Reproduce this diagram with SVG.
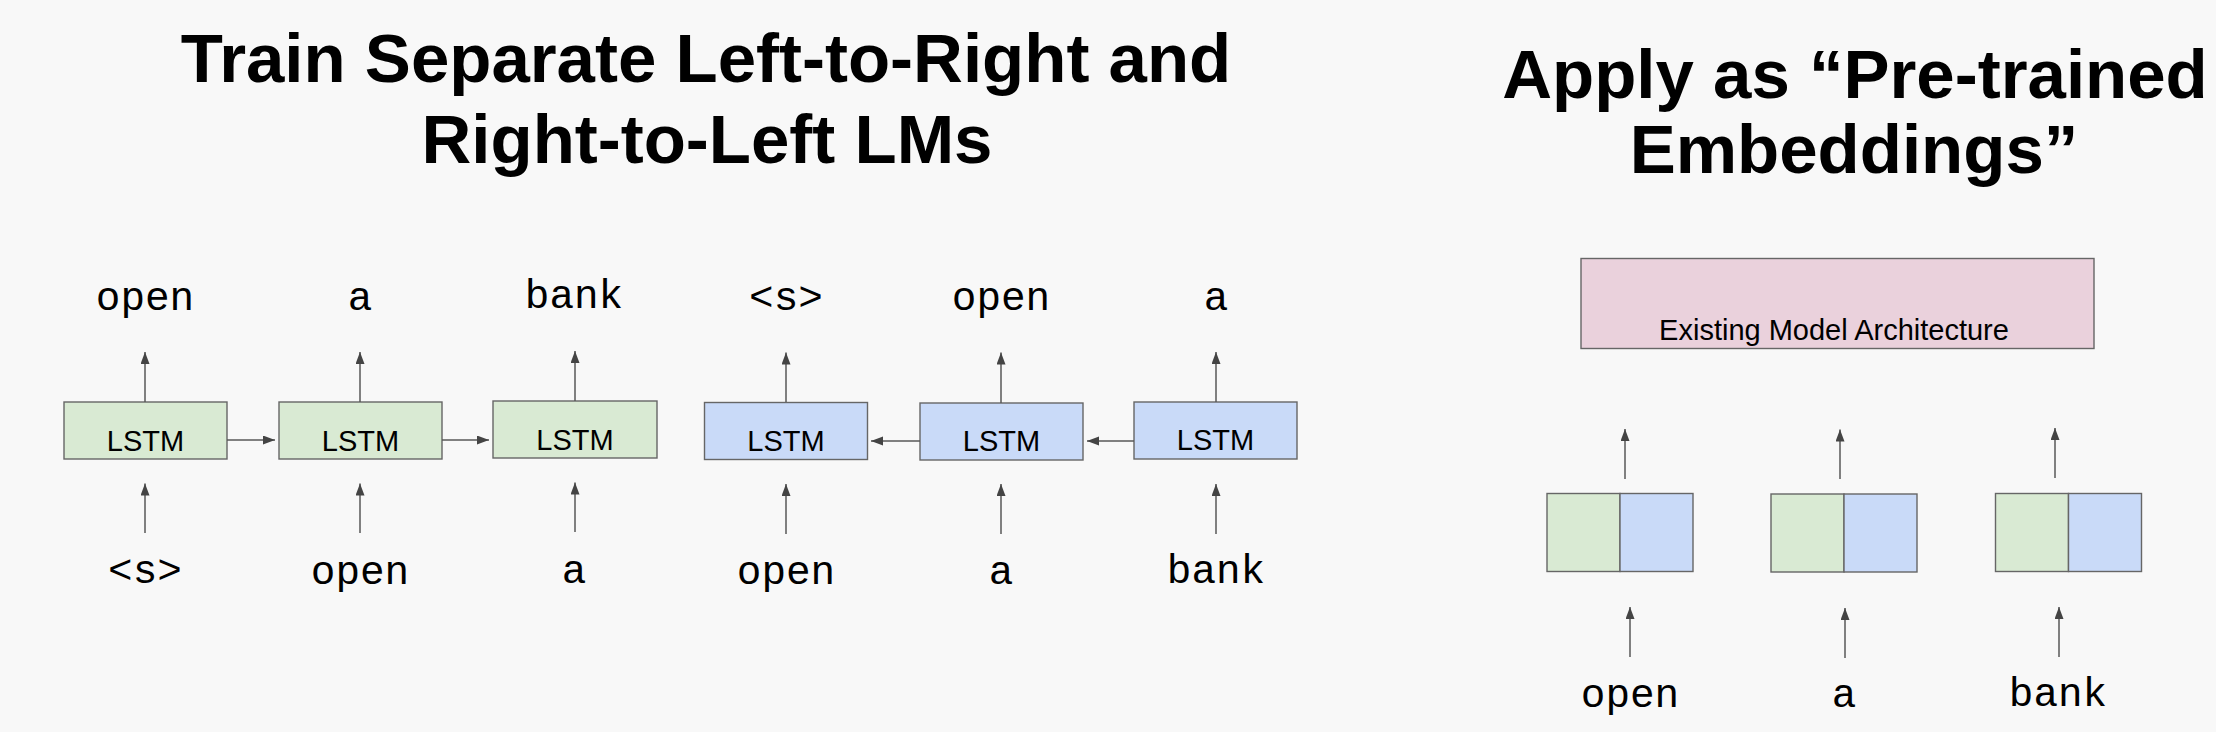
<svg xmlns="http://www.w3.org/2000/svg" width="2216" height="732" viewBox="0 0 2216 732">
<style>
.title{font-family:"Liberation Sans",Arial,sans-serif;font-weight:bold;fill:#000;text-anchor:middle}
.word{font-family:"Liberation Mono","Courier New",monospace;font-size:41px;fill:#000;text-anchor:middle}
.lbl{font-family:"Liberation Sans",Arial,sans-serif;font-size:29px;fill:#000;text-anchor:middle}
.g{fill:#d9ead3;stroke:#666;stroke-width:1.4}
.b{fill:#c9daf8;stroke:#666;stroke-width:1.4}
.p{fill:#ead1dc;stroke:#666;stroke-width:1.4}
.c{stroke:#595959;stroke-width:1.5;fill:none;marker-end:url(#ah)}
</style>
<defs>
<marker id="ah" markerUnits="userSpaceOnUse" markerWidth="13" markerHeight="10" refX="12" refY="4.5" orient="auto">
<path d="M0,0 L12,4.5 L0,9 z" fill="#444"/>
</marker>
</defs>
<rect width="2216" height="732" fill="#f8f8f8"/>
<g id="titles">
<text class="title" x="706" y="82" font-size="69">Train Separate Left-to-Right and</text>
<text class="title" x="707" y="163" font-size="69">Right-to-Left LMs</text>
<text class="title" x="1855" y="98" font-size="69">Apply as “Pre-trained</text>
<text class="title" x="1854" y="173" font-size="69">Embeddings”</text>
</g>
<g id="words">
<text class="word" x="145" y="310">open</text>
<text class="word" x="360" y="310">a</text>
<text class="word" x="574" y="308">bank</text>
<text class="word" x="786" y="310">&lt;s&gt;</text>
<text class="word" x="1001" y="310">open</text>
<text class="word" x="1216" y="310">a</text>
<text class="word" x="145" y="583">&lt;s&gt;</text>
<text class="word" x="360" y="584">open</text>
<text class="word" x="574" y="583">a</text>
<text class="word" x="786" y="584">open</text>
<text class="word" x="1001" y="584">a</text>
<text class="word" x="1216" y="583">bank</text>
<text class="word" x="1630" y="707">open</text>
<text class="word" x="1844" y="707">a</text>
<text class="word" x="2058" y="706">bank</text>
</g>
<g id="lstm-f1"><rect class="g" x="64" y="402" width="163" height="57"/><text class="lbl" x="145.5" y="451">LSTM</text></g>
<g id="lstm-f2"><rect class="g" x="279" y="402" width="163" height="57"/><text class="lbl" x="360.5" y="451">LSTM</text></g>
<g id="lstm-f3"><rect class="g" x="493" y="401" width="164" height="57"/><text class="lbl" x="575" y="450">LSTM</text></g>
<g id="lstm-b1"><rect class="b" x="704.5" y="402.5" width="163" height="57"/><text class="lbl" x="786" y="451">LSTM</text></g>
<g id="lstm-b2"><rect class="b" x="920" y="403" width="163" height="57"/><text class="lbl" x="1001.5" y="451">LSTM</text></g>
<g id="lstm-b3"><rect class="b" x="1134" y="402" width="163" height="57"/><text class="lbl" x="1215.5" y="450">LSTM</text></g>
<g id="arch"><rect class="p" x="1581" y="258.5" width="513" height="90"/><text class="lbl" x="1834" y="340" font-size="30">Existing Model Architecture</text></g>
<g id="emb-open"><rect class="g" x="1547" y="493.5" width="73" height="78"/><rect class="b" x="1620" y="493.5" width="73" height="78"/></g>
<g id="emb-a"><rect class="g" x="1771" y="494" width="73" height="78"/><rect class="b" x="1844" y="494" width="73" height="78"/></g>
<g id="emb-bank"><rect class="g" x="1995.5" y="493.5" width="73" height="78"/><rect class="b" x="2068.5" y="493.5" width="73" height="78"/></g>
<g id="connectors">
<line class="c" x1="145" y1="402" x2="145" y2="352"/>
<line class="c" x1="360" y1="402" x2="360" y2="352"/>
<line class="c" x1="575" y1="401" x2="575" y2="351"/>
<line class="c" x1="786" y1="402" x2="786" y2="352.5"/>
<line class="c" x1="1001" y1="403" x2="1001" y2="352.5"/>
<line class="c" x1="1216" y1="402" x2="1216" y2="352"/>
<line class="c" x1="145" y1="533" x2="145" y2="483.5"/>
<line class="c" x1="360" y1="533" x2="360" y2="483.5"/>
<line class="c" x1="575" y1="532" x2="575" y2="482.5"/>
<line class="c" x1="786" y1="534" x2="786" y2="484"/>
<line class="c" x1="1001" y1="534" x2="1001" y2="484"/>
<line class="c" x1="1216" y1="534" x2="1216" y2="484"/>
<line class="c" x1="227" y1="440" x2="275" y2="440"/>
<line class="c" x1="442" y1="440" x2="489" y2="440"/>
<line class="c" x1="920" y1="441" x2="871" y2="441"/>
<line class="c" x1="1134" y1="441" x2="1087" y2="441"/>
<line class="c" x1="1625" y1="479" x2="1625" y2="429"/>
<line class="c" x1="1840" y1="479" x2="1840" y2="429.5"/>
<line class="c" x1="2055" y1="478" x2="2055" y2="428"/>
<line class="c" x1="1630" y1="657" x2="1630" y2="607"/>
<line class="c" x1="1845" y1="658" x2="1845" y2="608"/>
<line class="c" x1="2059" y1="657" x2="2059" y2="607"/>
</g>
</svg>
